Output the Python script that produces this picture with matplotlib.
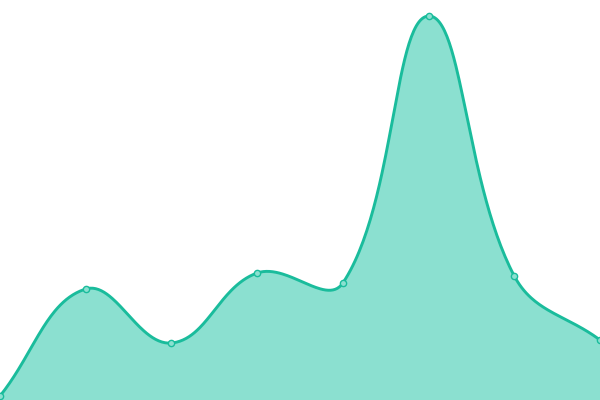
import numpy as np
import matplotlib
matplotlib.use("Agg")
import matplotlib.pyplot as plt

# ── Data (0-400 scale) ────────────────────────────────────────────────────────
x_idx = [0, 1, 2, 3, 4, 5, 6, 7]
values = [4, 111, 57, 127, 117, 384, 124, 60]

LINE = "#1abc9c"
FILL = "#8be0d0"
TENSION = 0.4
PX_PER_IDX = 600 / 7


def spline_curve(xs, ys, tension=TENSION, n=60):
    # cardinal-style bezier through points, control points scaled by distance
    px = np.asarray(xs, float) * PX_PER_IDX
    py = np.asarray(ys, float)
    k = len(px)
    cp_prev = np.zeros((k, 2))
    cp_next = np.zeros((k, 2))
    for i in range(k):
        p = np.array([px[i], py[i]])
        a = np.array([px[max(i - 1, 0)], py[max(i - 1, 0)]])
        c = np.array([px[min(i + 1, k - 1)], py[min(i + 1, k - 1)]])
        d01 = np.hypot(*(p - a))
        d12 = np.hypot(*(c - p))
        s01 = d01 / (d01 + d12) if d01 + d12 else 0
        s12 = d12 / (d01 + d12) if d01 + d12 else 0
        cp_prev[i] = p - tension * s01 * (c - a)
        cp_next[i] = p + tension * s12 * (c - a)
    out_x, out_y = [], []
    for i in range(k - 1):
        t = np.linspace(0, 1, n, endpoint=(i == k - 2))[:, None]
        p0 = np.array([px[i], py[i]])
        p3 = np.array([px[i + 1], py[i + 1]])
        b = ((1 - t) ** 3 * p0 + 3 * (1 - t) ** 2 * t * cp_next[i]
             + 3 * (1 - t) * t ** 2 * cp_prev[i + 1] + t ** 3 * p3)
        out_x.append(b[:, 0] / PX_PER_IDX)
        out_y.append(b[:, 1])
    return np.concatenate(out_x), np.concatenate(out_y)


sx, sy = spline_curve(x_idx, values)

fig = plt.figure(figsize=(6, 4), dpi=100)
ax = fig.add_axes([0, 0, 1, 1])
ax.fill_between(sx, sy, 0, color=FILL, linewidth=0, zorder=1)
ax.plot(sx, sy, color=LINE, linewidth=2.1, solid_capstyle="round", zorder=2)
ax.plot(x_idx, values, "o", markersize=4.5, markerfacecolor=FILL,
        markeredgecolor=LINE, markeredgewidth=1.0, zorder=3, clip_on=False)
ax.set_xlim(0, 7)
ax.set_ylim(0, 400)
ax.axis("off")
fig.savefig("out.png", dpi=100)
